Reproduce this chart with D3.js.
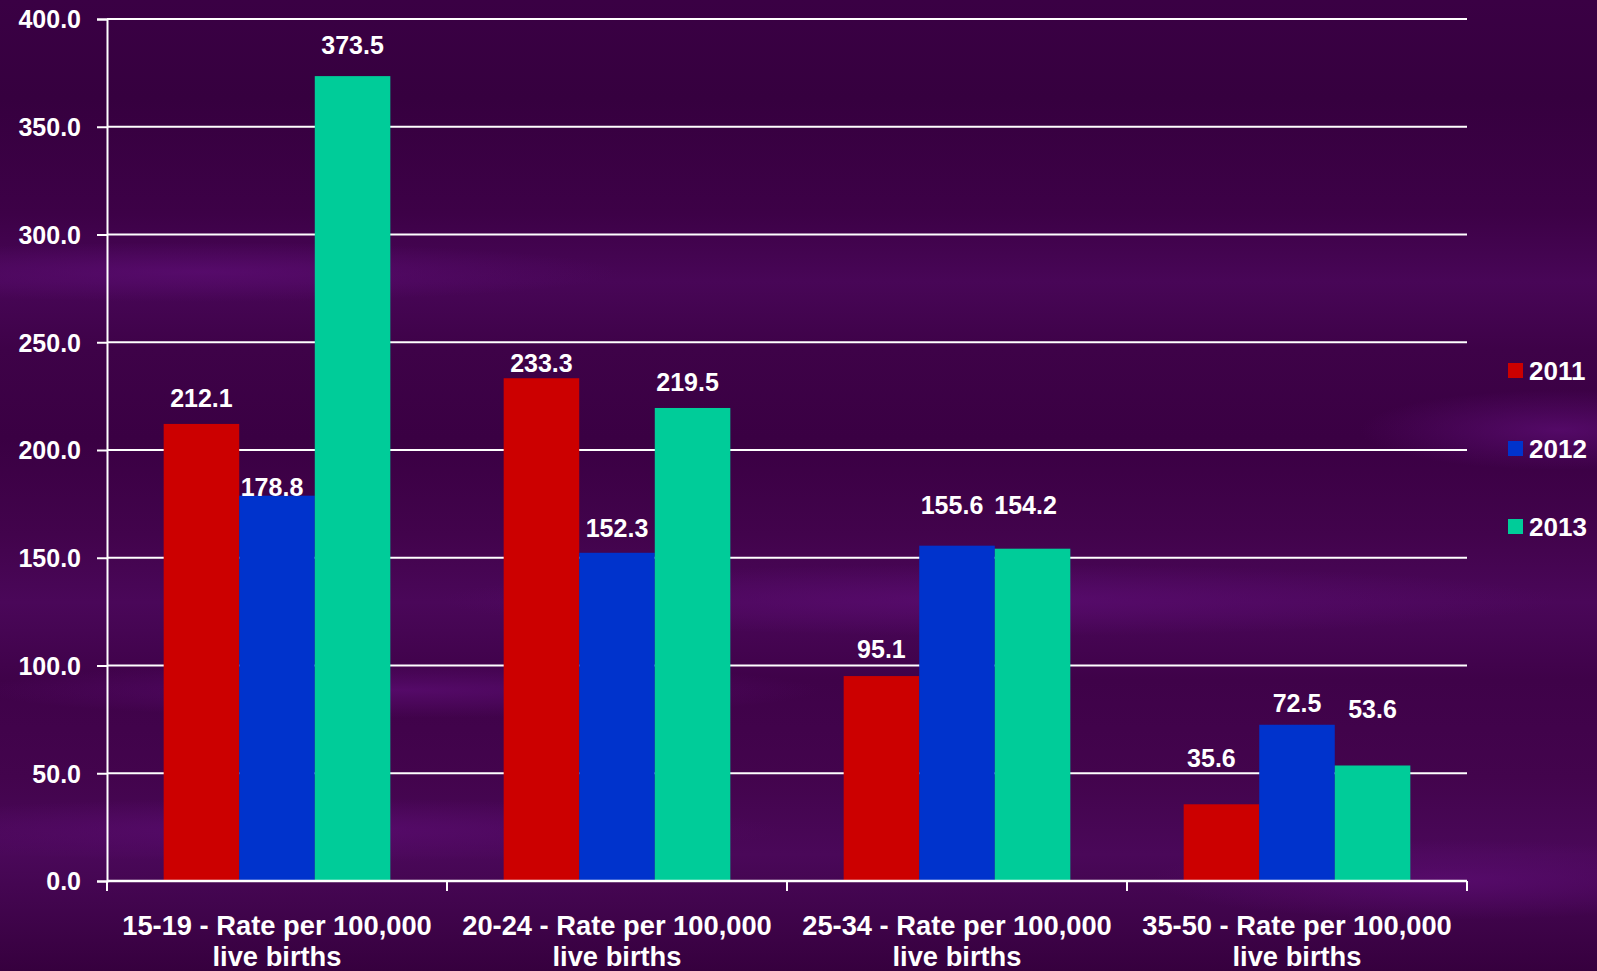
<!DOCTYPE html>
<html><head><meta charset="utf-8">
<script src="https://cdn.jsdelivr.net/npm/d3@7"></script>
<style>html,body{margin:0;padding:0;background:#3a0044;overflow:hidden}svg{display:block}</style>
</head><body>
<script>
const categories = ["15-19 - Rate per 100,000|live births","20-24 - Rate per 100,000|live births","25-34 - Rate per 100,000|live births","35-50 - Rate per 100,000|live births"];
const series = ["2011","2012","2013"];
const values2011 = [212.1, 233.3, 95.1, 35.6];
const values2012 = [178.8, 152.3, 155.6, 72.5];
const values2013 = [373.5, 219.5, 154.2, 53.6];
const yTicks = [0,50,100,150,200,250,300,350,400];
const colors = ["#cc0000","#0033cc","#00cc99"];
// label offsets (px) relative to bar top / centre, mimicking original placement
const labelDy = [[-17,-6,-18,-37],[0,-16,-32,-13],[-22,-17,-35,-47]];
const labelDx = [[0,0,0,-10],[-5,0,-5,0],[0,-5,-7,0]];

const W=1597,H=971;
const svg=d3.select("body").append("svg").attr("width",W).attr("height",H);
const defs=svg.append("defs");
const bg=defs.append("linearGradient").attr("id","bg").attr("x1",0).attr("y1",0).attr("x2",0).attr("y2",1);
[[0,"#3a0044"],[0.1,"#36003f"],[0.22,"#3d0147"],[0.29,"#480657"],[0.36,"#3e0248"],[0.45,"#3a0043"],[0.55,"#42034c"],[0.62,"#4a0759"],[0.7,"#3f0249"],[0.8,"#43044d"],[0.88,"#4a0859"],[1,"#36003e"]]
 .forEach(s=>bg.append("stop").attr("offset",s[0]).attr("stop-color",s[1]));
const rg=defs.append("radialGradient").attr("id","glow");
rg.append("stop").attr("offset",0).attr("stop-color","#5a0c70").attr("stop-opacity",0.8);
rg.append("stop").attr("offset",1).attr("stop-color","#5a0c70").attr("stop-opacity",0);
svg.append("rect").attr("width",W).attr("height",H).attr("fill","url(#bg)");
const streaks=[[200,272,420,30],[1000,600,560,36],[400,690,420,28],[1560,430,200,40],[300,830,480,32],[1450,880,300,40]];
svg.append("g").selectAll("ellipse").data(streaks).join("ellipse")
 .attr("cx",d=>d[0]).attr("cy",d=>d[1]).attr("rx",d=>d[2]).attr("ry",d=>d[3]).attr("fill","url(#glow)");

const m={left:107,right:1467,top:19,bottom:881};
const x0=d3.scaleBand().domain(categories).range([m.left,m.right]).paddingInner(0).paddingOuter(0);
const x1=d3.scaleBand().domain(series).range([0,x0.bandwidth()]).paddingInner(0).paddingOuter(0.75);
const y=d3.scaleLinear().domain([0,400]).range([m.bottom,m.top]);

const font="'Liberation Sans', Arial, sans-serif";

// gridlines
svg.append("g").selectAll("line").data(yTicks.filter(t=>t>0)).join("line")
 .attr("x1",m.left).attr("x2",m.right).attr("y1",d=>y(d)).attr("y2",d=>y(d))
 .attr("stroke","#ffffff").attr("stroke-width",2);

// bars
const allVals=[values2011,values2012,values2013];
const g=svg.append("g");
series.forEach((s,si)=>{
  g.append("g").selectAll("rect").data(categories.map((c,ci)=>({c,ci,v:allVals[si][ci]}))).join("rect")
   .attr("x",d=>x0(d.c)+x1(s)).attr("width",x1.bandwidth())
   .attr("y",d=>y(d.v)).attr("height",d=>y(0)-y(d.v)).attr("fill",colors[si]);
});

// y axis
const yAxis=d3.axisLeft(y).tickValues(yTicks).tickFormat(d3.format(".1f")).tickSize(10).tickPadding(16);
const ya=svg.append("g").attr("transform",`translate(${m.left},0)`).call(yAxis);
ya.select(".domain").attr("stroke","#fff").attr("stroke-width",2);
ya.selectAll(".tick line").attr("stroke","#fff").attr("stroke-width",2);
ya.selectAll(".tick text").attr("fill","#fff").attr("font-family",font).attr("font-weight","bold").attr("font-size",25).attr("dy","0.35em");

// x axis
const xa=svg.append("g").attr("transform",`translate(0,${m.bottom})`);
xa.append("line").attr("x1",m.left).attr("x2",m.right).attr("stroke","#fff").attr("stroke-width",2.5);
const bounds=categories.map(c=>x0(c)).concat([m.right]);
xa.selectAll("line.tk").data(bounds).join("line").attr("class","tk")
 .attr("x1",d=>d).attr("x2",d=>d).attr("y1",0).attr("y2",10).attr("stroke","#fff").attr("stroke-width",2);
const cl=xa.selectAll("text").data(categories).join("text")
 .attr("x",d=>x0(d)+x0.bandwidth()/2).attr("y",54)
 .attr("text-anchor","middle").attr("fill","#fff").attr("font-family",font).attr("font-weight","bold").attr("font-size",27.3);
cl.each(function(d){const parts=d.split("|");const t=d3.select(this);
 parts.forEach((p,i)=>t.append("tspan").attr("x",x0(d)+x0.bandwidth()/2).attr("dy",i?31:0).text(p));});

// value labels
series.forEach((s,si)=>{
  svg.append("g").selectAll("text").data(categories.map((c,ci)=>({c,ci,v:allVals[si][ci]}))).join("text")
   .attr("x",d=>x0(d.c)+x1(s)+x1.bandwidth()/2+labelDx[si][d.ci])
   .attr("y",d=>y(d.v)+labelDy[si][d.ci])
   .attr("text-anchor","middle").attr("fill","#fff").attr("font-family",font).attr("font-weight","bold").attr("font-size",25)
   .text(d=>d3.format(".1f")(d.v));
});

// legend
const lg=svg.append("g");
series.forEach((s,i)=>{
  const yy=370+i*78;
  lg.append("rect").attr("x",1508).attr("y",yy-7).attr("width",15).attr("height",15).attr("fill",colors[i]);
  lg.append("text").attr("x",1529).attr("y",yy+9.5).attr("fill","#fff").attr("font-family",font).attr("font-weight","bold").attr("font-size",26).text(s);
});
</script>
</body></html>
